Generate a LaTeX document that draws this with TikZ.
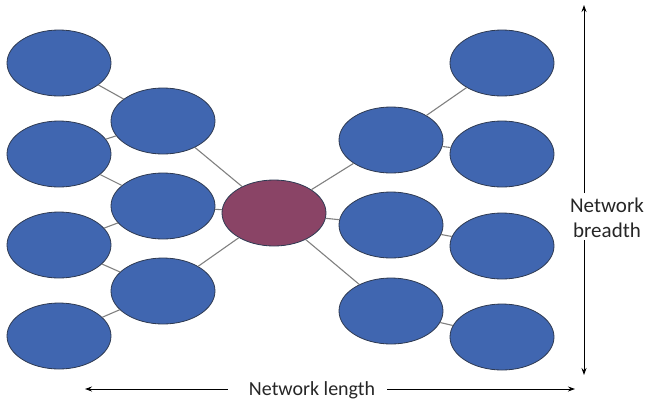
\documentclass[tikz,border=0pt]{standalone}
\usepackage{fontspec}
\setmainfont{Carlito}
\usetikzlibrary{shapes.geometric,arrows.meta}
\definecolor{nodeblue}{HTML}{4066B0}
\definecolor{hubred}{HTML}{8A4466}
\definecolor{rimcol}{HTML}{2E3A52}
\definecolor{linkgray}{HTML}{808080}
\definecolor{txtcol}{HTML}{262626}
\tikzset{
  member/.style={ellipse, draw=rimcol, line width=0.8pt, fill=nodeblue,
    minimum width=104pt, minimum height=66pt, inner sep=0pt},
  hub/.style={member, fill=hubred},
  link/.style={draw=linkgray, line width=1.1pt},
  axis/.style={draw=black, line width=0.9pt, -{Stealth[length=7pt,width=5pt]}},
  axislabel/.style={text=txtcol, inner sep=0pt}
}
\begin{document}
\begin{tikzpicture}[x=1pt,y=-1pt]
\useasboundingbox (0,0) rectangle (647,402);

% left outer column
\node[member] (lo1) at (59,63) {};
\node[member] (lo2) at (59,154) {};
\node[member] (lo3) at (59,245) {};
\node[member] (lo4) at (59,336) {};
% left inner column
\node[member] (li1) at (163,121) {};
\node[member] (li2) at (163,206) {};
\node[member] (li3) at (163,291) {};
% central node
\node[hub] (c) at (274,213) {};
% right inner column
\node[member] (ri1) at (391,140) {};
\node[member] (ri2) at (391,225) {};
\node[member] (ri3) at (391,311) {};
% right outer column
\node[member] (ro1) at (502,63) {};
\node[member] (ro2) at (502,154) {};
\node[member] (ro3) at (502,246) {};
\node[member] (ro4) at (502,337) {};

% ties between nodes
\path[link] (lo1) -- (li1);
\path[link] (lo2) -- (li1);
\path[link] (lo2) -- (li2);
\path[link] (lo3) -- (li2);
\path[link] (lo3) -- (li3);
\path[link] (lo4) -- (li3);
\path[link] (li1) -- (c);
\path[link] (li2) -- (c);
\path[link] (li3) -- (c);
\path[link] (c) -- (ri1);
\path[link] (c) -- (ri2);
\path[link] (c) -- (ri3);
\path[link] (ri1) -- (ro1);
\path[link] (ri1) -- (ro2);
\path[link] (ri2) -- (ro3);
\path[link] (ri3) -- (ro4);

% breadth axis
\node[axislabel, align=center, font=\fontsize{21}{25}\selectfont] (breadth) at (607,218) {Network\\breadth};
\coordinate (vtop) at (584,5);
\coordinate (vbot) at (584,375);
\draw[axis] (584,193) -- (vtop);
\draw[axis] (584,240) -- (vbot);

% length axis
\node[axislabel, font=\fontsize{20}{24}\selectfont] (length) at (312,390) {Network length};
\coordinate (hleft) at (85,389);
\coordinate (hright) at (575,389);
\draw[axis] ([xshift=-21pt]length.west |- hleft) -- (hleft);
\draw[axis] ([xshift=12pt]length.east |- hright) -- (hright);
\end{tikzpicture}
\end{document}
